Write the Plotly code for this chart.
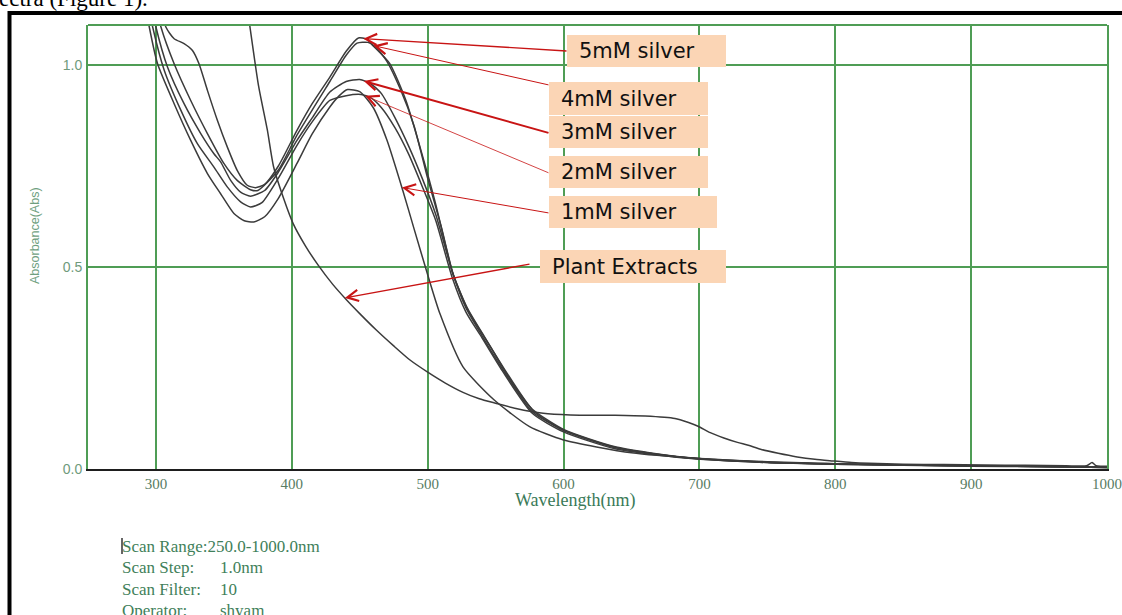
import plotly.graph_objects as go
import numpy as np

# ---------------- data ----------------
wl_5mM = [285, 300, 307.3, 313.4, 320.7, 326.9, 331.7, 337.9, 345.2, 352.5, 359.8, 367.2, 373.3, 380, 390,
          403.8, 415, 428, 440, 449, 455, 460, 472, 484, 495, 506, 512, 518, 523, 528, 534, 540, 547, 555,
          566, 577, 600, 638, 687, 750, 800, 850, 900, 950, 1000]
abs_5mM = [1.40, 1.20, 1.095, 1.066, 1.054, 1.037, 1.004, 0.938, 0.864, 0.798, 0.740, 0.703, 0.697, 0.705, 0.75,
           0.839, 0.905, 0.971, 1.035, 1.068, 1.065, 1.048, 1.005, 0.913, 0.79, 0.655, 0.57, 0.49, 0.445,
           0.405, 0.368, 0.336, 0.298, 0.253, 0.195, 0.148, 0.098, 0.055, 0.030, 0.017, 0.013, 0.010, 0.008,
           0.006, 0.004]

wl_4mM = [283, 298, 303.7, 313.4, 325.6, 337.9, 350, 359.8, 369.6, 375, 390, 403.8, 428, 440, 448, 456, 462,
          470, 480, 490, 500, 510, 519, 529, 541, 556, 578, 600, 640, 690, 750, 800, 850, 900, 950, 1000]
abs_4mM = [1.40, 1.18, 1.095, 1.004, 0.913, 0.831, 0.757, 0.715, 0.692, 0.690, 0.74, 0.827, 0.96, 1.025, 1.055,
           1.057, 1.045, 1.01, 0.94, 0.85, 0.72, 0.60, 0.48, 0.40, 0.332, 0.25, 0.143, 0.096, 0.052, 0.028,
           0.016, 0.012, 0.010, 0.008, 0.006, 0.005]

wl_3mM = [285, 300, 308.5, 320.7, 333, 342.7, 347.6, 355, 362.3, 369.6, 380, 390, 403.8, 415, 428, 440, 450,
          458, 466, 476, 486, 496, 506, 518, 528, 540, 555, 577, 600, 638, 687, 750, 800, 850, 900, 950, 1000]
abs_3mM = [1.35, 1.095, 0.996, 0.905, 0.831, 0.781, 0.761, 0.715, 0.686, 0.676, 0.69, 0.735, 0.814, 0.87, 0.934,
           0.96, 0.965, 0.955, 0.93, 0.87, 0.80, 0.72, 0.63, 0.49, 0.40, 0.33, 0.248, 0.142, 0.096, 0.053,
           0.029, 0.017, 0.012, 0.010, 0.008, 0.006, 0.005]

wl_2mM = [283, 297.6, 306.1, 318.3, 330.5, 342.7, 352.5, 362.3, 369.6, 378, 390, 403.8, 415, 428, 440, 451,
          458, 466, 476, 486, 496, 506, 518, 528, 540, 555, 577, 600, 638, 687, 750, 800, 850, 900, 950, 1000]
abs_2mM = [1.35, 1.095, 0.988, 0.889, 0.806, 0.748, 0.699, 0.662, 0.649, 0.66, 0.72, 0.802, 0.86, 0.913, 0.925,
           0.928, 0.92, 0.895, 0.845, 0.78, 0.70, 0.615, 0.475, 0.39, 0.325, 0.243, 0.138, 0.092, 0.05, 0.028,
           0.016, 0.012, 0.009, 0.007, 0.006, 0.004]

wl_1mM = [282, 295.1, 301.2, 313.4, 325.6, 337.9, 347.6, 357.4, 365, 372, 380, 390, 403.8, 415, 428, 435, 441,
          450, 460, 470, 481.7, 490, 501, 509, 526, 549, 575, 600, 650, 700, 750, 800, 850, 900, 950, 1000]
abs_1mM = [1.35, 1.095, 1.004, 0.905, 0.814, 0.732, 0.682, 0.633, 0.615, 0.612, 0.625, 0.67, 0.757, 0.83, 0.897,
           0.925, 0.94, 0.935, 0.895, 0.815, 0.69, 0.595, 0.47, 0.385, 0.253, 0.171, 0.105, 0.072, 0.040, 0.026,
           0.018, 0.013, 0.010, 0.008, 0.006, 0.004]

wl_plant = [355, 362, 369, 375.5, 382, 386.5, 394, 401, 410, 419.4, 430, 440, 450, 462, 475, 487, 500, 513, 526,
            538, 550, 565, 585, 605, 638, 660, 682, 692, 699, 708, 718, 728, 736, 745, 758, 772, 785, 798, 812,
            825, 850, 880, 910, 940, 970, 985, 989, 992, 996, 1000]
abs_plant = [1.45, 1.27, 1.10, 0.95, 0.84, 0.75, 0.67, 0.608, 0.553, 0.505, 0.458, 0.42, 0.385, 0.345, 0.305,
             0.27, 0.24, 0.213, 0.19, 0.174, 0.163, 0.15, 0.138, 0.134, 0.133, 0.131, 0.125, 0.115, 0.106, 0.09,
             0.077, 0.066, 0.059, 0.049, 0.039, 0.030, 0.024, 0.020, 0.016, 0.014, 0.012, 0.011, 0.010, 0.009,
             0.008, 0.008, 0.016, 0.008, 0.007, 0.007]

x_ticks = [300, 400, 500, 600, 700, 800, 900, 1000]
x_tick_labels = ["300", "400", "500", "600", "700", "800", "900", "1000"]
y_ticks = [0.0, 0.5, 1.0]
y_tick_labels = ["0.0", "0.5", "1.0"]

label_names = ["5mM silver", "4mM silver", "3mM silver", "2mM silver", "1mM silver", "Plant Extracts"]
arrow_target_wl = [452.6, 460, 453, 454, 481, 439]

info_keys = ["Scan Range:250.0-1000.0nm", "Scan Step:", "Scan Filter:", "Operator:"]
info_vals = ["", "1.0nm", "10", "shyam"]

series = [
    (wl_5mM, abs_5mM), (wl_4mM, abs_4mM), (wl_3mM, abs_3mM),
    (wl_2mM, abs_2mM), (wl_1mM, abs_1mM), (wl_plant, abs_plant),
]

# ---------------- layout geometry ----------------
W, H = 1122, 615
PL, PR, PT, PB = 88, 1107, 25, 469          # plot area in pixels
XR = [250, 1000]
YR = [0, 1.1]


def px_x(px):
    return (px - PL) / (PR - PL)


def px_y(py):
    return (PB - py) / (PB - PT)


def dx(px):
    return XR[0] + (px - PL) / (PR - PL) * (XR[1] - XR[0])


def dy(py):
    return YR[0] + (PB - py) / (PB - PT) * (YR[1] - YR[0])


GRID = "#4f9d55"
CURVE = "#3b3b3b"
RED = "#c81414"
PEACH = "#fbd5b5"

fig = go.Figure()
for wl, ab in series:
    fig.add_trace(go.Scatter(x=wl, y=ab, mode="lines",
                             line=dict(color=CURVE, width=1.5, shape="spline", smoothing=0.6),
                             showlegend=False, hoverinfo="skip"))

fig.update_layout(
    width=W, height=H, autosize=False,
    margin=dict(l=PL, r=W - PR, t=PT, b=H - PB, autoexpand=False),
    paper_bgcolor="white", plot_bgcolor="white",
    showlegend=False,
    xaxis=dict(range=XR, tickvals=x_ticks, ticktext=x_tick_labels, showgrid=True, automargin=False,
               ticklabeloverflow="allow",
               gridcolor=GRID, gridwidth=2, zeroline=False, showline=True, linecolor="#1e1e1e",
               linewidth=2, ticks="", tickfont=dict(family="Liberation Serif", size=15, color="#587c63")),
    yaxis=dict(range=YR, tickvals=y_ticks, ticktext=y_tick_labels, showgrid=True, automargin=False,
               gridcolor=GRID, gridwidth=2, zeroline=False, showline=True, linecolor=GRID,
               linewidth=2, mirror=True, ticks="", ticklabelstandoff=1,
               tickfont=dict(family="Liberation Sans", size=14, color="#6f9a7c")),
)

shapes = []
# top border of the plot (green)
shapes.append(dict(type="line", xref="paper", yref="paper", x0=0, x1=1, y0=1, y1=1,
                   line=dict(color=GRID, width=2)))
# outer black frame (page border)
shapes.append(dict(type="line", xref="paper", yref="paper", x0=px_x(8), x1=px_x(1125),
                   y0=px_y(13), y1=px_y(13), line=dict(color="black", width=4)))
shapes.append(dict(type="line", xref="paper", yref="paper", x0=px_x(9.5), x1=px_x(9.5),
                   y0=px_y(11), y1=px_y(620), line=dict(color="black", width=4)))
# text cursor before "Scan Range"
shapes.append(dict(type="line", xref="paper", yref="paper", x0=px_x(122), x1=px_x(122),
                   y0=px_y(538), y1=px_y(554), line=dict(color="#333333", width=1.5)))

# label boxes
boxes = [(567, 35, 726, 67), (549, 82, 708, 115), (549, 116, 708, 148),
         (549, 156, 708, 188), (549, 196, 717, 228), (540, 250, 726, 283)]
text_x = [577, 559, 559, 559, 559, 550]
for (bx0, by0, bx1, by1) in boxes:
    shapes.append(dict(type="rect", xref="paper", yref="paper", layer="above",
                       x0=px_x(bx0), x1=px_x(bx1), y0=px_y(by1), y1=px_y(by0),
                       fillcolor=PEACH, line=dict(width=0)))
fig.update_layout(shapes=shapes)

ann = []
for name, (bx0, by0, bx1, by1), tx in zip(label_names, boxes, text_x):
    ann.append(dict(text=name, xref="paper", yref="paper", x=px_x(tx), y=px_y((by0 + by1) / 2),
                    xanchor="left", yanchor="middle", showarrow=False,
                    font=dict(family="DejaVu Sans", size=21, color="#111111")))

# arrows from boxes to curves
tails = [(567, 51), (549, 85), (549, 133), (549, 173), (549, 213), (530, 264)]
widths = [1.4, 1.0, 2.0, 0.8, 1.0, 1.4]
for (wl, ab), twl, (tx, ty), w in zip(series, arrow_target_wl, tails, widths):
    ty_data = float(np.interp(twl, wl, ab))
    ann.append(dict(text=" ", font=dict(size=1), x=twl, y=ty_data, xref="x", yref="y",
                    ax=dx(tx), ay=dy(ty), axref="x", ayref="y", showarrow=True,
                    arrowhead=5, arrowsize=2.2 / w, arrowwidth=w, arrowcolor=RED, standoff=0,
                    borderpad=0))

# axis titles
ann.append(dict(text="Wavelength(nm)", xref="paper", yref="paper", x=px_x(575), y=px_y(500),
                xanchor="center", yanchor="middle", showarrow=False,
                font=dict(family="Liberation Serif", size=18, color="#3a7a58")))
ann.append(dict(text="Absorbance(Abs)", xref="paper", yref="paper", x=px_x(35), y=px_y(236),
                xanchor="center", yanchor="middle", showarrow=False, textangle=-90,
                font=dict(family="Liberation Sans", size=12.5, color="#6f9f7f")))

# scan info lines
rows_y = [546, 567, 589, 610]
for key, val, ry in zip(info_keys, info_vals, rows_y):
    ann.append(dict(text=key, xref="paper", yref="paper", x=px_x(120), y=px_y(ry),
                    xanchor="left", yanchor="middle", showarrow=False,
                    font=dict(family="Liberation Serif", size=17, color="#3f7f5a")))
    if val:
        ann.append(dict(text=val, xref="paper", yref="paper", x=px_x(218), y=px_y(ry),
                        xanchor="left", yanchor="middle", showarrow=False,
                        font=dict(family="Liberation Serif", size=17, color="#3f7f5a")))

# cut-off sentence at the very top of the page
ann.append(dict(text="ectra (Figure 1).", xref="paper", yref="paper", x=px_x(-3), y=px_y(-2),
                xanchor="left", yanchor="middle", showarrow=False,
                font=dict(family="Liberation Serif", size=23, color="black")))

fig.update_layout(annotations=ann)
fig.write_html("out.html", config={"displayModeBar": False},
               post_script="document.body.style.margin='0px';document.body.style.overflow='hidden';")
